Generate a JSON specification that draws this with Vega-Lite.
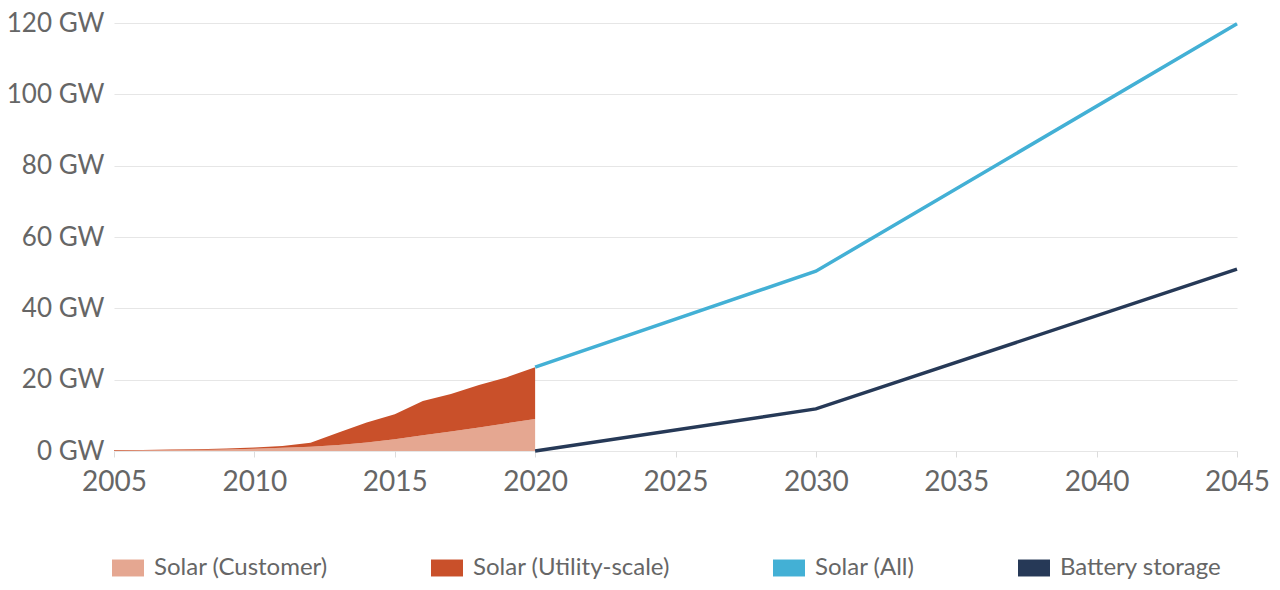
{
  "$schema": "https://vega.github.io/schema/vega-lite/v6.json",
  "width": 1123,
  "height": 428,
  "autosize": "none",
  "padding": {"left": 114, "top": 23, "right": 43, "bottom": 139},
  "background": "white",
  "config": {
    "font": "Lato",
    "view": {"stroke": null},
    "axis": {
      "labelColor": "#666666",
      "labelFontSize": 26,
      "labelFont": "Lato",
      "labelFontWeight": 400,
      "title": null,
      "domain": false
    }
  },
  "data": {
    "values": [
      {"year": 2005, "series": "Solar (Customer)", "gw": 0.1},
      {"year": 2006, "series": "Solar (Customer)", "gw": 0.15},
      {"year": 2007, "series": "Solar (Customer)", "gw": 0.2},
      {"year": 2008, "series": "Solar (Customer)", "gw": 0.3},
      {"year": 2009, "series": "Solar (Customer)", "gw": 0.4},
      {"year": 2010, "series": "Solar (Customer)", "gw": 0.6},
      {"year": 2011, "series": "Solar (Customer)", "gw": 0.9},
      {"year": 2012, "series": "Solar (Customer)", "gw": 1.2},
      {"year": 2013, "series": "Solar (Customer)", "gw": 1.7},
      {"year": 2014, "series": "Solar (Customer)", "gw": 2.4},
      {"year": 2015, "series": "Solar (Customer)", "gw": 3.3},
      {"year": 2016, "series": "Solar (Customer)", "gw": 4.4},
      {"year": 2017, "series": "Solar (Customer)", "gw": 5.5},
      {"year": 2018, "series": "Solar (Customer)", "gw": 6.6},
      {"year": 2019, "series": "Solar (Customer)", "gw": 7.8},
      {"year": 2020, "series": "Solar (Customer)", "gw": 9.0},
      {"year": 2005, "series": "Solar (Utility-scale)", "gw": 0.15},
      {"year": 2006, "series": "Solar (Utility-scale)", "gw": 0.15},
      {"year": 2007, "series": "Solar (Utility-scale)", "gw": 0.2},
      {"year": 2008, "series": "Solar (Utility-scale)", "gw": 0.2},
      {"year": 2009, "series": "Solar (Utility-scale)", "gw": 0.3},
      {"year": 2010, "series": "Solar (Utility-scale)", "gw": 0.4},
      {"year": 2011, "series": "Solar (Utility-scale)", "gw": 0.5},
      {"year": 2012, "series": "Solar (Utility-scale)", "gw": 1.1},
      {"year": 2013, "series": "Solar (Utility-scale)", "gw": 3.5},
      {"year": 2014, "series": "Solar (Utility-scale)", "gw": 5.6},
      {"year": 2015, "series": "Solar (Utility-scale)", "gw": 7.0},
      {"year": 2016, "series": "Solar (Utility-scale)", "gw": 9.6},
      {"year": 2017, "series": "Solar (Utility-scale)", "gw": 10.5},
      {"year": 2018, "series": "Solar (Utility-scale)", "gw": 11.9},
      {"year": 2019, "series": "Solar (Utility-scale)", "gw": 12.9},
      {"year": 2020, "series": "Solar (Utility-scale)", "gw": 14.5},
      {"year": 2020, "series": "Solar (All)", "gw": 23.5},
      {"year": 2030, "series": "Solar (All)", "gw": 50.4},
      {"year": 2045, "series": "Solar (All)", "gw": 119.8},
      {"year": 2020, "series": "Battery storage", "gw": 0},
      {"year": 2030, "series": "Battery storage", "gw": 11.8},
      {"year": 2045, "series": "Battery storage", "gw": 51}
    ]
  },
  "encoding": {
    "x": {
      "field": "year",
      "type": "quantitative",
      "scale": {"domain": [2005, 2045], "nice": false, "zero": false},
      "axis": {
        "values": [2005, 2010, 2015, 2020, 2025, 2030, 2035, 2040, 2045],
        "format": "d",
        "grid": false,
        "ticks": true,
        "tickColor": "#dcdcdc",
        "tickSize": 6,
        "labelFontSize": 28,
        "labelFlush": false,
        "labelOverlap": false,
        "labelPadding": 11
      }
    },
    "color": {
      "field": "series",
      "type": "nominal",
      "scale": {
        "domain": ["Solar (Customer)", "Solar (Utility-scale)", "Solar (All)", "Battery storage"],
        "range": ["#e5a791", "#c9502a", "#43b0d5", "#263957"]
      }
    }
  },
  "layer": [
    {
      "transform": [{"filter": {"field": "series", "oneOf": ["Solar (Customer)", "Solar (Utility-scale)"]}}],
      "mark": {"type": "area", "opacity": 1},
      "encoding": {
        "y": {
          "field": "gw",
          "type": "quantitative",
          "stack": "zero",
          "scale": {"domain": [0, 120], "nice": false},
          "axis": {
            "values": [0, 20, 40, 60, 80, 100, 120],
            "labelExpr": "datum.value + ' GW'",
            "grid": true,
            "gridColor": "#e6e6e6",
            "gridWidth": 1.2,
            "ticks": false,
            "labelPadding": 10
          }
        },
        "order": {"field": "series", "sort": "ascending"},
        "color": {
          "field": "series",
          "type": "nominal",
          "legend": {
            "title": null,
            "orient": "none",
            "direction": "horizontal",
            "legendX": -2,
            "legendY": 529,
            "symbolType": "M-1,-0.53H1V0.53H-1Z",
            "symbolSize": 1024,
            "symbolStrokeWidth": 0,
            "symbolOpacity": 1,
            "labelFontSize": 24,
            "labelColor": "#666666",
            "labelFont": "Lato",
            "labelFontWeight": 400,
            "labelOffset": 10,
            "labelLimit": 400,
            "columnPadding": 103
          }
        }
      }
    },
    {
      "transform": [{"filter": {"field": "series", "oneOf": ["Solar (All)", "Battery storage"]}}],
      "mark": {"type": "line", "strokeWidth": 3.5},
      "encoding": {
        "y": {"field": "gw", "type": "quantitative"},
        "color": {"field": "series", "type": "nominal", "legend": null}
      }
    }
  ]
}
